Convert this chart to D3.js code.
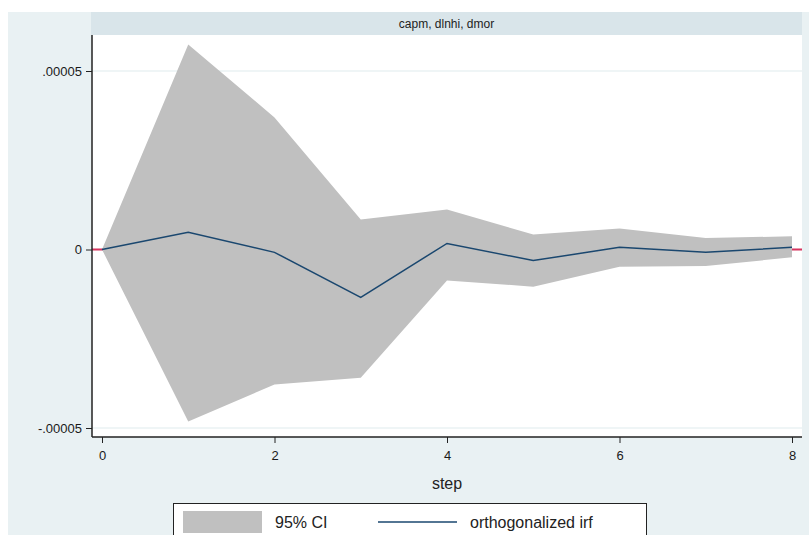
<!DOCTYPE html>
<html><head><meta charset="utf-8">
<script src="https://cdn.jsdelivr.net/npm/d3@7/dist/d3.min.js"></script>
<style>body{margin:0;background:#fff;}svg{display:block;font-family:"Liberation Sans",Arial,sans-serif;}</style>
</head><body>
<svg id="c" width="809" height="535"></svg>
<script>
const steps = [0,1,2,3,4,5,6,7,8];
const irf   = [0, 0.0000048, -0.0000008, -0.0000134, 0.0000017, -0.0000031, 0.0000006, -0.0000008, 0.0000006];
const upper = [0, 0.0000574, 0.0000370, 0.0000084, 0.0000112, 0.0000042, 0.0000059, 0.0000032, 0.0000037];
const lower = [0, -0.0000482, -0.0000378, -0.0000359, -0.0000087, -0.0000104, -0.0000048, -0.0000046, -0.0000022];
const yTicks = [0.00005, 0, -0.00005];
const yTickLabels = [".00005", "0", "-.00005"];
const xTicks = [0,2,4,6,8];
const panelTitle = "capm, dlnhi, dmor";
const xTitle = "step";
const legendLabels = ["95% CI", "orthogonalized irf"];

const svg = d3.select("#c");
const L = 92, R = 802, T = 35, B = 437;
svg.append("rect").attr("x",8).attr("y",12).attr("width",801).attr("height",523).attr("fill","#e9f1f3");
svg.append("rect").attr("x",91).attr("y",12).attr("width",711).attr("height",23).attr("fill","#d9e5ea");
svg.append("text").attr("x",(91+802)/2).attr("y",28).attr("text-anchor","middle")
  .attr("font-size",12).attr("fill","#222").text(panelTitle);
svg.append("rect").attr("x",L).attr("y",T).attr("width",R-L).attr("height",B-T).attr("fill","#fff");

const x = d3.scaleLinear().domain([0,8]).range([102,792]);
const y = d3.scaleLinear().domain([0.00005,-0.00005]).range([71,428]);

svg.append("g").selectAll("line").data(yTicks).join("line")
  .attr("x1",L).attr("x2",R).attr("y1",d=>y(d)).attr("y2",d=>y(d))
  .attr("stroke","#eaf2f3").attr("stroke-width",1.5);

svg.append("line").attr("x1",L).attr("x2",R).attr("y1",y(0)).attr("y2",y(0))
  .attr("stroke","#d8345f").attr("stroke-width",1.8);

const data = steps.map((s,i)=>({s, irf:irf[i], up:upper[i], lo:lower[i]}));
svg.append("path").datum(data)
  .attr("d", d3.area().x(d=>x(d.s)).y0(d=>y(d.lo)).y1(d=>y(d.up)))
  .attr("fill","#c0c0c0");
svg.append("path").datum(data)
  .attr("d", d3.line().x(d=>x(d.s)).y(d=>y(d.irf)))
  .attr("fill","none").attr("stroke","#1a476f").attr("stroke-width",1.5);

const yAxis = d3.axisLeft(y).tickValues(yTicks).tickFormat((d,i)=>yTickLabels[i]).tickSize(6).tickPadding(4);
const gy = svg.append("g").attr("transform",`translate(${L},0)`).call(yAxis);
gy.select(".domain").attr("d",`M0,${T}V${B}`).attr("stroke","#222").attr("stroke-width",1.5);
gy.selectAll(".tick line").attr("stroke","#222");
gy.selectAll(".tick text").attr("font-size",13).attr("fill","#1a1a1a").attr("font-family","Liberation Sans, Arial, sans-serif");

const xAxis = d3.axisBottom(x).tickValues(xTicks).tickFormat(d3.format("d")).tickSize(6).tickPadding(8);
const gx = svg.append("g").attr("transform",`translate(0,${B})`).call(xAxis);
gx.select(".domain").attr("d",`M${L},0H${R}`).attr("stroke","#222").attr("stroke-width",1.5);
gx.selectAll(".tick line").attr("stroke","#222");
gx.selectAll(".tick text").attr("font-size",13).attr("fill","#1a1a1a").attr("font-family","Liberation Sans, Arial, sans-serif");

svg.append("text").attr("x",(L+R)/2).attr("y",489).attr("text-anchor","middle")
  .attr("font-size",16).attr("fill","#222").text(xTitle);

const lg = svg.append("g");
lg.append("rect").attr("x",173.5).attr("y",503.5).attr("width",473).attr("height",40)
  .attr("fill","#fff").attr("stroke","#222").attr("stroke-width",1);
lg.append("rect").attr("x",183).attr("y",511).attr("width",79).attr("height",22).attr("fill","#c0c0c0");
lg.append("text").attr("x",275).attr("y",528).attr("font-size",16).attr("fill","#222").text(legendLabels[0]);
lg.append("line").attr("x1",378).attr("x2",457).attr("y1",522).attr("y2",522)
  .attr("stroke","#1a476f").attr("stroke-width",1.5);
lg.append("text").attr("x",470).attr("y",528).attr("font-size",16).attr("fill","#222").text(legendLabels[1]);
</script>
</body></html>
